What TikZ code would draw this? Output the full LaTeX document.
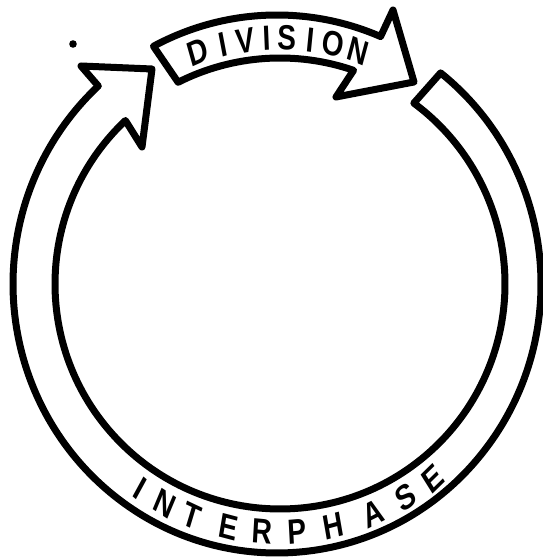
\documentclass[tikz,border=0pt]{standalone}
\usepackage{fontspec}
\setmainfont{Liberation Sans}
\usetikzlibrary{calc}
\begin{document}
\begin{tikzpicture}[x=1pt,y=1pt,
  band/.style={draw=black, line width=7pt, line join=round},
  lab/.style={font=\fontsize{35}{35}\bfseries\selectfont, inner sep=0pt, xscale=0.8}]
\useasboundingbox (0,0) rectangle (542,557);
\coordinate (oc) at (277,273);
\coordinate (ic) at (280,273);
% main ring with arrowhead at upper left
\draw[band] ($(oc)+(51.7:264 and 269)$)
  arc[start angle=51.7, end angle=-227.4, x radius=264, y radius=269]
  -- (81,491) -- (152,488) -- (142,410)
  -- ($(ic)+(133.4:225)$)
  arc[start angle=-226.6, end angle=53.5, radius=225]
  -- cycle;
% division arrow
\draw[band] ($(oc)+(117.9:264 and 269)$)
  arc[start angle=117.9, end angle=66.9, x radius=264, y radius=269]
  -- (393,547) -- (414,475) -- (336,460)
  -- ($(ic)+(71:226)$)
  arc[start angle=71, end angle=116.8, radius=226]
  -- cycle;
% dot
\fill (73,513) circle (3.8);
% labels
\foreach \a/\ch [count=\i] in {109.5/D,103.4/I,98.2/V,93.0/I,88.4/S,82.9/I,77.4/O,71.4/N}
  \node[lab, rotate=\a-90] (d\i) at ($(ic)+(\a:246)$) {\ch};
\foreach \a/\ch [count=\i] in {-124.4/I,-117.6/N,-110.7/T,-101.9/E,-94.1/R,-86.1/P,-77.7/H,-67.9/A,-59.5/S,-51.9/E}
  \node[lab, rotate=\a+90] (p\i) at ($(ic)+(\a:248)$) {\ch};
\end{tikzpicture}
\end{document}
